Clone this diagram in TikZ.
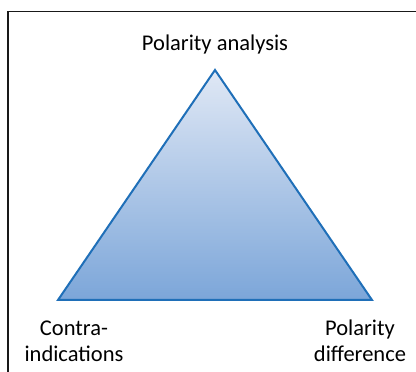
\documentclass[tikz,border=0pt]{standalone}
\usepackage{fontspec}
\setmainfont{Carlito}
\usetikzlibrary{positioning}
\usepackage{xcolor}
\definecolor{edgeblue}{RGB}{31,111,184}
\definecolor{toptint}{RGB}{224,232,245}
\definecolor{bottint}{RGB}{124,166,217}

\begin{document}
\begin{tikzpicture}[x=0.025cm,y=-0.025cm]
\tikzset{label text/.style={font=\fontsize{16}{18.4}\selectfont, align=center, inner sep=0pt}}
\useasboundingbox (0,0) rectangle (416,372);

% frame corner
\draw[black!90, line width=0.9pt] (8,372)--(8,11.5)--(416,11.5);

\coordinate (apex) at (215,70);
\coordinate (left) at (58,300);
\coordinate (right) at (372,300);

\draw[edgeblue, line width=0.5mm, line join=miter, top color=toptint, bottom color=bottint] (apex)--(left)--(right)--cycle;

\node[label text] (analysis) at (215,45) {Polarity analysis};
\node[label text] (contra) at (74,341) {Contra-\\indications};
\node[label text] (difference) at (360,341) {Polarity\\difference};

\end{tikzpicture}
\end{document}
